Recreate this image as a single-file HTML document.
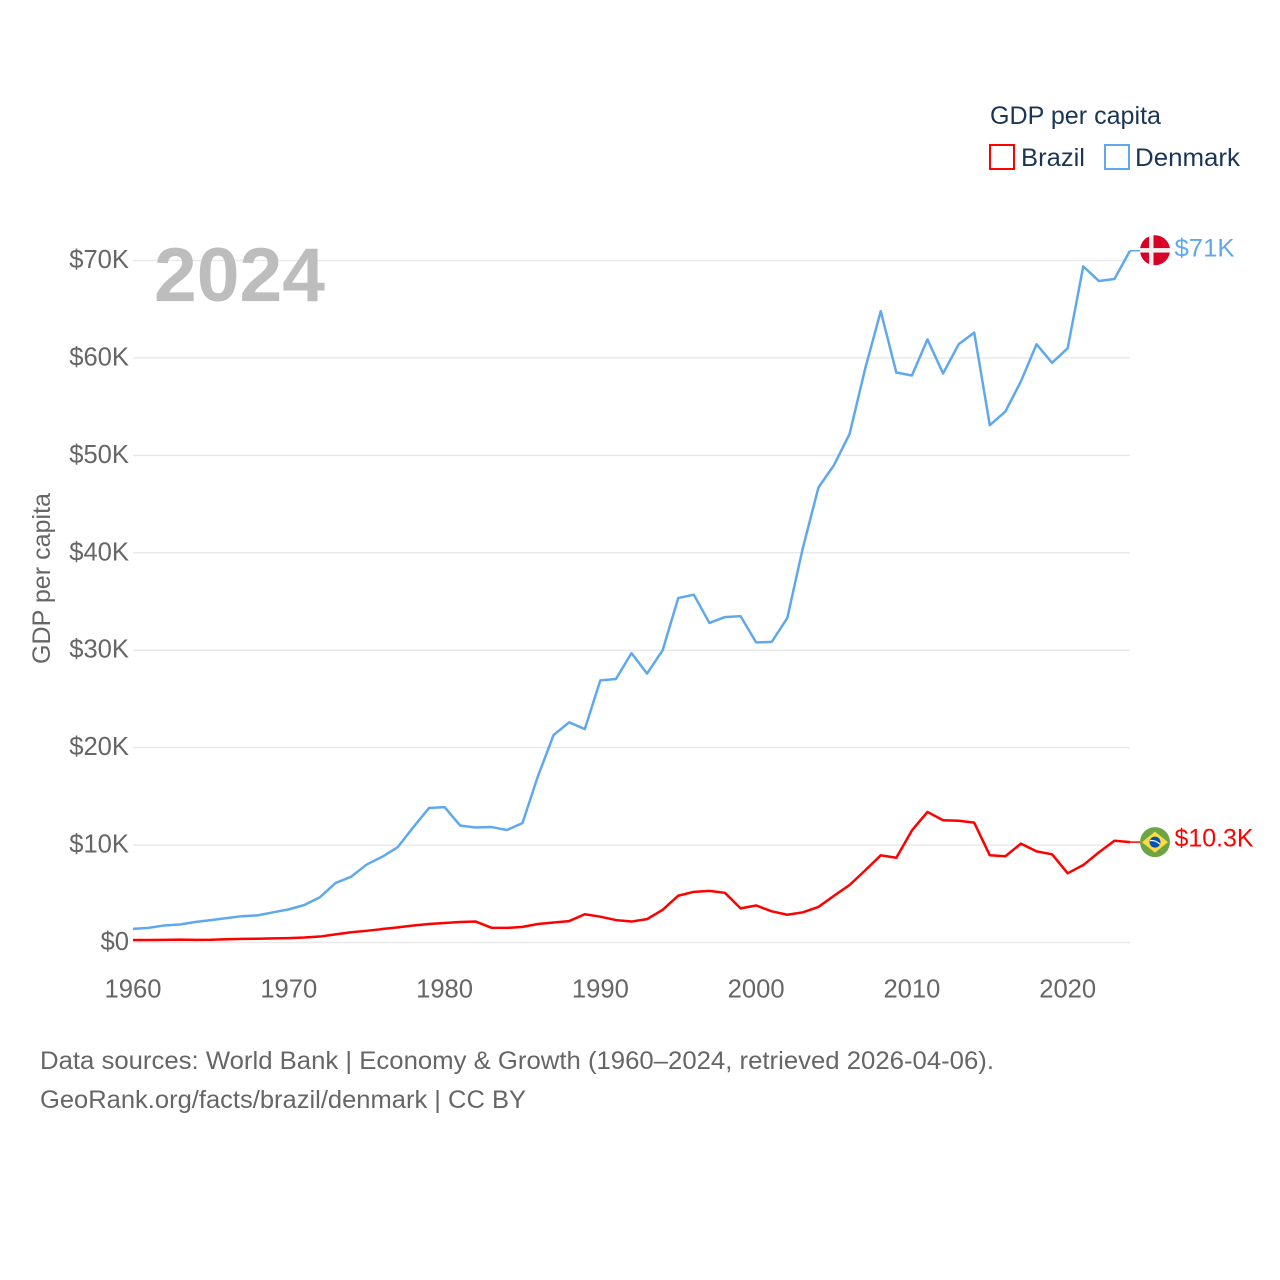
<!DOCTYPE html>
<html lang="en">
<head>
<meta charset="utf-8">
<title>GDP per capita: Brazil and Denmark</title>
<style>
  html, body { margin: 0; padding: 0; background: #ffffff; }
  svg { display: block; font-family: "Liberation Sans", sans-serif; }
</style>
</head>
<body>
<svg id="chart" xmlns="http://www.w3.org/2000/svg" width="1280" height="1280" viewBox="0 0 1280 1280">
  <rect width="1280" height="1280" fill="#ffffff"/>
  <g id="grid"></g>
  <g id="yticks"></g>
  <g id="xticks"></g>
  <text transform="translate(50 578.5) rotate(-90)" text-anchor="middle" font-size="25" fill="#666666" textLength="171" lengthAdjust="spacingAndGlyphs">GDP per capita</text>
  <text x="154" y="301" font-size="76" font-weight="700" fill="#bdbdbd" textLength="171" lengthAdjust="spacingAndGlyphs">2024</text>
  <g id="series"></g>
  <g id="endpoints"></g>

  <g>
    <text x="990" y="124" font-size="25" fill="#1b3556" textLength="171" lengthAdjust="spacingAndGlyphs">GDP per capita</text>
    <g>
      <rect x="990" y="145" width="24" height="24" fill="none" stroke="#ff0000" stroke-width="2"/>
      <text x="1021" y="166" font-size="25" fill="#1b3556" textLength="64" lengthAdjust="spacingAndGlyphs">Brazil</text>
    </g>
    <g>
      <rect x="1105" y="145" width="24" height="24" fill="none" stroke="#5fa8ee" stroke-width="2"/>
      <text x="1135" y="166" font-size="25" fill="#1b3556" textLength="105" lengthAdjust="spacingAndGlyphs">Denmark</text>
    </g>
  </g>

  <text x="40" y="1069" font-size="25" fill="#666666" textLength="954" lengthAdjust="spacingAndGlyphs">Data sources: World Bank | Economy &amp; Growth (1960–2024, retrieved 2026-04-06).</text>
  <text x="40" y="1108" font-size="25" fill="#666666" textLength="486" lengthAdjust="spacingAndGlyphs">GeoRank.org/facts/brazil/denmark | CC BY</text>
</svg>
<script>
const years = [1960,1961,1962,1963,1964,1965,1966,1967,1968,1969,1970,1971,1972,1973,1974,1975,1976,1977,1978,1979,1980,1981,1982,1983,1984,1985,1986,1987,1988,1989,1990,1991,1992,1993,1994,1995,1996,1997,1998,1999,2000,2001,2002,2003,2004,2005,2006,2007,2008,2009,2010,2011,2012,2013,2014,2015,2016,2017,2018,2019,2020,2021,2022,2023,2024];
const denmarkValues = [1.4,1.5,1.75,1.85,2.1,2.3,2.5,2.7,2.78,3.1,3.4,3.85,4.65,6.1,6.75,8,8.8,9.8,11.85,13.8,13.9,12,11.8,11.85,11.55,12.25,17.1,21.3,22.6,21.9,26.9,27.05,29.7,27.6,30,35.35,35.7,32.8,33.4,33.5,30.8,30.85,33.3,40.5,46.7,49,52.2,58.9,64.8,58.5,58.2,61.9,58.4,61.4,62.6,53.1,54.5,57.6,61.4,59.5,61,69.4,67.9,68.1,71];
const brazilValues = [0.25,0.25,0.27,0.3,0.27,0.28,0.34,0.37,0.39,0.42,0.45,0.51,0.61,0.83,1.05,1.2,1.38,1.55,1.75,1.9,2,2.1,2.15,1.52,1.5,1.6,1.9,2.05,2.2,2.9,2.65,2.3,2.15,2.4,3.35,4.8,5.2,5.3,5.1,3.5,3.8,3.2,2.85,3.1,3.65,4.8,5.9,7.4,8.95,8.7,11.5,13.4,12.55,12.5,12.3,8.95,8.85,10.15,9.35,9.05,7.1,7.95,9.25,10.45,10.3];
const yTickValues = [0,10,20,30,40,50,60,70];
const yTickLabels = ["$0","$10K","$20K","$30K","$40K","$50K","$60K","$70K"];
const xTickValues = [1960,1970,1980,1990,2000,2010,2020];
const endLabelDenmark = "$71K";
const endLabelBrazil = "$10.3K";

const NS = "http://www.w3.org/2000/svg";
const plotLeft = 133, plotRight = 1130, plotBottom = 942.5, plotTop = 260.5;
function xScale(year) {
  return plotLeft + (year - 1960) * (plotRight - plotLeft) / (2024 - 1960);
}
function yScale(value) {
  return plotBottom - value * (plotBottom - plotTop) / 70;
}
function make(tag, attrs, parent) {
  const el = document.createElementNS(NS, tag);
  for (const k in attrs) el.setAttribute(k, attrs[k]);
  parent.appendChild(el);
  return el;
}

const gridGroup = document.getElementById("grid");
const yGroup = document.getElementById("yticks");
yTickValues.forEach(function (v, i) {
  const line = make("line", { x1: plotLeft, x2: plotRight, y1: yScale(v), y2: yScale(v), stroke: "#e9e9e9", "stroke-width": 1.5 }, gridGroup);
  
  
  const label = make("text", { x: 129, y: yScale(v) + 7.5, "text-anchor": "end", "font-size": 25.6, fill: "#666666" }, yGroup);
  label.textContent = yTickLabels[i];
  
  
});

const xGroup = document.getElementById("xticks");
xTickValues.forEach(function (year) {
  const label = make("text", { x: xScale(year), y: 997.5, "text-anchor": "middle", "font-size": 25.6, fill: "#666666" }, xGroup);
  label.textContent = String(year);
  
  
});

function linePath(values) {
  return values.map(function (v, i) {
    return (i ? "L" : "M") + xScale(years[i]).toFixed(2) + " " + yScale(v).toFixed(2);
  }).join(" ");
}
const seriesGroup = document.getElementById("series");
const denmarkLine = make("path", { d: linePath(denmarkValues), fill: "none", stroke: "#5fa8ee", "stroke-width": 2.5, "stroke-linejoin": "round" }, seriesGroup);


const brazilLine = make("path", { d: linePath(brazilValues), fill: "none", stroke: "#ff0000", "stroke-width": 2.5, "stroke-linejoin": "round" }, seriesGroup);



const endGroup = document.getElementById("endpoints");
const lastX = xScale(years[years.length - 1]);
const flagX = lastX + 25;

const denmarkY = yScale(denmarkValues[denmarkValues.length - 1]);
const denmarkStub = make("line", { x1: lastX, x2: flagX, y1: denmarkY, y2: denmarkY, stroke: "#5fa8ee", "stroke-width": 1.5 }, endGroup);


const denmarkFlag = make("g", { transform: "translate(" + flagX + " " + (denmarkY - 0.5) + ")" }, endGroup);


make("circle", { r: 15, fill: "#d80027" }, denmarkFlag);
make("rect", { x: -6, y: -15, width: 4.5, height: 30, fill: "#f0f0f0" }, denmarkFlag);
make("rect", { x: -15, y: -2.2, width: 30, height: 4.5, fill: "#f0f0f0" }, denmarkFlag);
const denmarkLabel = make("text", { x: flagX + 19.5, y: denmarkY + 5.5, "font-size": 25, fill: "#5fa8ee", textLength: 60, lengthAdjust: "spacingAndGlyphs" }, endGroup);
denmarkLabel.textContent = endLabelDenmark;



const brazilY = yScale(brazilValues[brazilValues.length - 1]);
const brazilStub = make("line", { x1: lastX, x2: flagX, y1: brazilY, y2: brazilY, stroke: "#ff0000", "stroke-width": 1.5 }, endGroup);


const brazilFlag = make("g", { transform: "translate(" + flagX + " " + brazilY + ")" }, endGroup);


make("circle", { r: 15, fill: "#6da544" }, brazilFlag);
make("polygon", { points: "0,-10.5 13,0 0,10.5 -13,0", fill: "#ffda44" }, brazilFlag);
make("circle", { r: 5.5, fill: "#0052b4" }, brazilFlag);
make("path", { d: "M-5 -1.5 Q0 -2.5 5 2", fill: "none", stroke: "#f0f0f0", "stroke-width": 1.3 }, brazilFlag);
const brazilLabel = make("text", { x: flagX + 19.5, y: brazilY + 4.5, "font-size": 25, fill: "#ff0000", textLength: 79, lengthAdjust: "spacingAndGlyphs" }, endGroup);
brazilLabel.textContent = endLabelBrazil;


</script>
</body>
</html>
